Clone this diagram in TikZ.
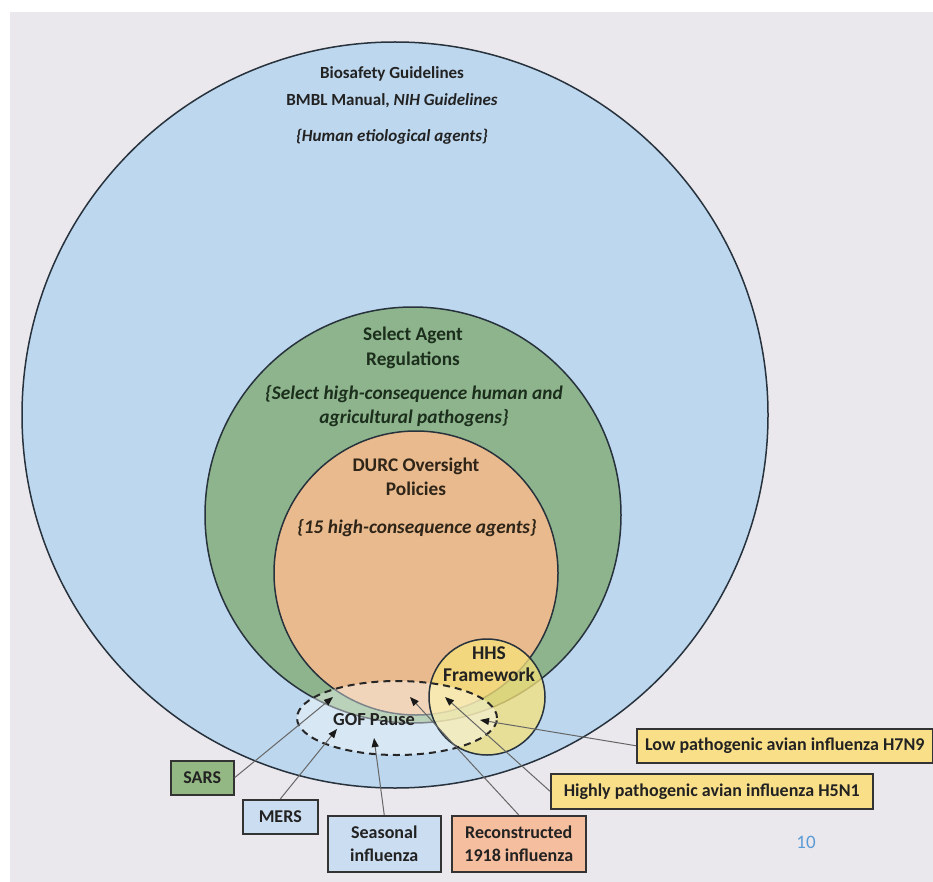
\documentclass[tikz,border=0pt]{standalone}
\usepackage{fontspec}
\setmainfont{Carlito}
\usetikzlibrary{arrows.meta}
\definecolor{bg}{HTML}{EAE8ED}
\definecolor{cblue}{HTML}{BDD7EE}
\definecolor{cgreen}{HTML}{8DB48C}
\definecolor{corange}{HTML}{E9BA8D}
\definecolor{cyellow}{HTML}{F6E27A}
\definecolor{edge}{HTML}{27323D}
\definecolor{lsars}{HTML}{93B883}
\definecolor{lblue}{HTML}{CBDDF0}
\definecolor{lsalmon}{HTML}{F5BE9E}
\definecolor{lyellow}{HTML}{F9DF88}
\definecolor{pgnum}{HTML}{5B9BD5}
\definecolor{txt}{HTML}{222222}
\definecolor{gtxt}{HTML}{1C2E1C}
\definecolor{otxt}{HTML}{2E2418}
\begin{document}
\begin{tikzpicture}[x=1pt,y=-1pt,
  circ/.style={draw=edge, line width=1.5pt},
  ctext/.style={align=center, font=\fontsize{17}{27}\selectfont\bfseries, text=txt, inner sep=0pt},
  citext/.style={align=center, font=\fontsize{17}{23}\selectfont\bfseries\itshape, text=txt, inner sep=0pt},
  btext/.style={align=center, font=\fontsize{19.3}{24.5}\selectfont\bfseries, inner sep=0pt},
  bitext/.style={align=center, font=\fontsize{19.3}{23.5}\selectfont\bfseries\itshape, inner sep=0pt},
  lbl/.style={draw=black!80, line width=1.5pt, font=\fontsize{18}{23}\selectfont\bfseries, align=center, inner sep=0pt, anchor=north west, text=txt},
  conn/.style={draw=black!60, line width=1pt, -{Triangle[length=9pt,width=7pt,color=black!90]}}]
\useasboundingbox (0,0) rectangle (933,882);
\fill[white] (0,0) rectangle (933,882);
\fill[bg] (10,12) rectangle (933,882);
% circles
\draw[circ, fill=cblue] (395,415) circle[radius=373pt];
\draw[circ, fill=cgreen] (413,515) circle[radius=208pt];
\draw[circ, fill=corange] (416,573) circle[radius=142pt];
\fill[cyellow, opacity=0.75] (487,697) circle[radius=58pt];
\fill[white, opacity=0.4] (397,718) ellipse[x radius=100pt, y radius=37pt];
\draw[circ] (487,697) circle[radius=58pt];
\draw[black!85, line width=2pt, dash pattern=on 7pt off 5pt] (397,718) ellipse[x radius=100pt, y radius=37pt];
% circle texts
\node[ctext] (bio) at (392,87) {Biosafety Guidelines\\BMBL Manual, \textit{NIH Guidelines}};
\node[citext] (bioi) at (392,137) {\{Human etiological agents\}};
\node[btext, text=gtxt] (sel) at (413,348) {Select Agent\\Regulations};
\node[bitext, text=gtxt] (seli) at (414,406) {\{Select high-consequence human and\\agricultural pathogens\}};
\node[btext, text=otxt] (durc) at (416,477) {DURC Oversight\\Policies};
\node[bitext, text=otxt] (durci) at (417,528) {\{15 high-consequence agents\}};
\node[btext, text=txt, font=\fontsize{19.5}{22.5}\selectfont\bfseries] (hhs) at (489,664) {HHS\\Framework};
\node[btext, text=txt, font=\fontsize{18.4}{22}\selectfont\bfseries] (gof) at (374,720) {GOF Pause};
% label boxes
\node[lbl, fill=lsars, minimum width=63pt, minimum height=34pt] (sars) at (170,760) {SARS};
\node[lbl, fill=lblue, minimum width=75pt, minimum height=34pt] (mers) at (242,799) {MERS};
\node[lbl, fill=lblue, minimum width=113pt, minimum height=56pt] (seas) at (327,815) {Seasonal\\influenza};
\node[lbl, fill=lsalmon, minimum width=134pt, minimum height=56pt] (recon) at (451,815) {Reconstructed\\1918 influenza};
\node[lbl, fill=lyellow, minimum width=296pt, minimum height=34pt] (h7n9) at (636,728) {Low pathogenic avian influenza H7N9};
\node[lbl, fill=lyellow, minimum width=322pt, minimum height=35pt] (h5n1) at (550,773) {Highly pathogenic avian influenza H5N1};
\node[font=\fontsize{19}{20}\selectfont, text=pgnum] (page) at (806,842) {10};
% arrow targets
\coordinate (tsars) at (333,697);
\coordinate (tmers) at (337,729);
\coordinate (tseas) at (374,738);
\coordinate (trecon) at (410,697);
\coordinate (th5n1) at (445,697);
\coordinate (th7n9) at (480,720);
\draw[conn] (sars.east) -- (tsars);
\draw[conn] (mers.north) -- (tmers);
\draw[conn] (seas.north) -- (tseas);
\draw[conn] (recon.north) -- (trecon);
\draw[conn] (h5n1.west) -- (th5n1);
\draw[conn] (h7n9.west) -- (th7n9);
\end{tikzpicture}
\end{document}
